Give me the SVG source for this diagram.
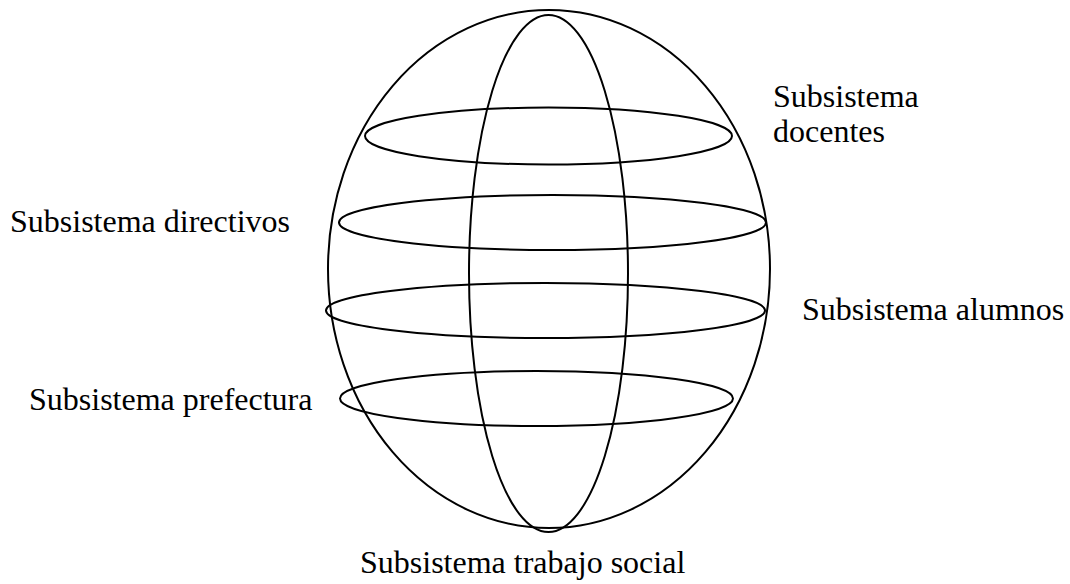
<svg xmlns="http://www.w3.org/2000/svg" width="1070" height="584" viewBox="0 0 1070 584">
<style>
.e{fill:none;stroke:#000;stroke-width:2}
.t{font-family:"Liberation Serif","Times New Roman",serif;font-size:32px;fill:#000}
</style>
<rect width="1070" height="584" fill="#fff"/>
<g id="sphere">
<ellipse class="e" cx="549" cy="269" rx="221" ry="259"/>
</g>
<g id="meridian">
<ellipse class="e" cx="548.5" cy="273.5" rx="79.5" ry="258.5"/>
</g>
<g id="ring-docentes"><ellipse class="e" cx="548.5" cy="136" rx="183.5" ry="28.5"/></g>
<g id="ring-directivos"><ellipse class="e" cx="552.5" cy="222.5" rx="213.5" ry="27.5"/></g>
<g id="ring-alumnos"><ellipse class="e" cx="545.5" cy="310.5" rx="219.5" ry="27.5"/></g>
<g id="ring-prefectura"><ellipse class="e" cx="536.5" cy="398.5" rx="196.5" ry="27.5"/></g>
<g id="labels">
<text class="t" x="773" y="107">Subsistema</text>
<text class="t" x="773" y="142">docentes</text>
<text class="t" x="10" y="232">Subsistema directivos</text>
<text class="t" x="802" y="320">Subsistema alumnos</text>
<text class="t" x="29" y="410">Subsistema prefectura</text>
<text class="t" x="360" y="573">Subsistema trabajo social</text>
</g>
</svg>
